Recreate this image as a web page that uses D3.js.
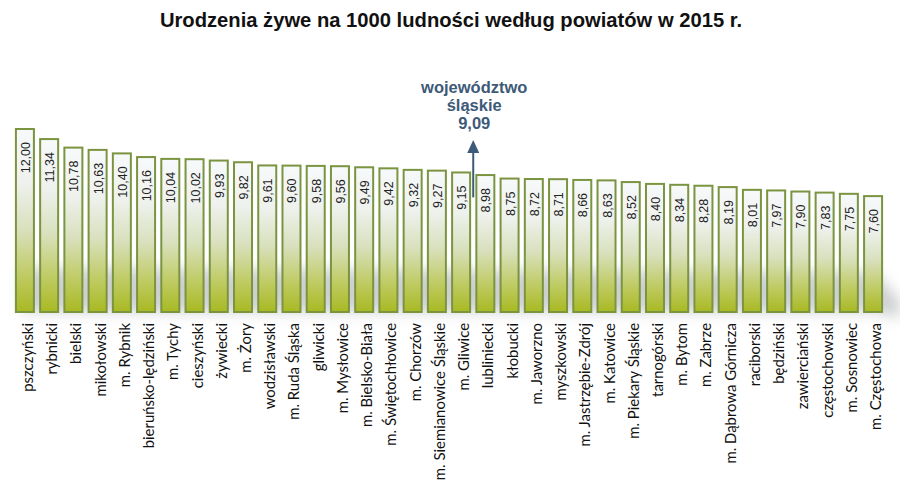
<!DOCTYPE html>
<html><head><meta charset="utf-8">
<script src="https://cdn.jsdelivr.net/npm/d3@7"></script>
<style>body{margin:0;background:#fff}svg{display:block}</style>
</head><body>
<svg id="c" width="900" height="496"></svg>
<script>
const categories = ["pszczyński","rybnicki","bielski","mikołowski","m. Rybnik","bieruńsko-lędziński","m. Tychy","cieszyński","żywiecki","m. Żory","wodzisławski","m. Ruda Śląska","gliwicki","m. Mysłowice","m. Bielsko-Biała","m. Świętochłowice","m. Chorzów","m. Siemianowice Śląskie","m. Gliwice","lubliniecki","kłobucki","m. Jaworzno","myszkowski","m. Jastrzębie-Zdrój","m. Katowice","m. Piekary Śląskie","tarnogórski","m. Bytom","m. Zabrze","m. Dąbrowa Górnicza","raciborski","będziński","zawierciański","częstochowski","m. Sosnowiec","m. Częstochowa"];
const values = [12.00,11.34,10.78,10.63,10.40,10.16,10.04,10.02,9.93,9.82,9.61,9.60,9.58,9.56,9.49,9.42,9.32,9.27,9.15,8.98,8.75,8.72,8.71,8.66,8.63,8.52,8.40,8.34,8.28,8.19,8.01,7.97,7.90,7.83,7.75,7.60];
const title = "Urodzenia żywe na 1000 ludności według powiatów w 2015 r.";
const avgLabel = ["województwo","śląskie","9,09"];
const avgValue = 9.09;

const svg = d3.select("#c");
const fmt = v => v.toFixed(2).replace(".", ",");

const x = d3.scaleBand().domain(categories).range([13, 885]).paddingInner(0.257).paddingOuter(0.12);
const y = d3.scaleLinear().domain([0, 12]).range([312, 129]);

const defs = svg.append("defs");
const g = defs.append("linearGradient").attr("id","bg").attr("x1",0).attr("y1",0).attr("x2",0).attr("y2",1);
[[0,"#f7f9fb"],[0.3,"#eef1ec"],[0.55,"#d9e0bd"],[0.8,"#bfcb63"],[1,"#a8b922"]].forEach(([o,c])=>g.append("stop").attr("offset",o).attr("stop-color",c));
const blur = defs.append("filter").attr("id","blur").attr("x","-20%").attr("y","-100%").attr("width","140%").attr("height","300%");
blur.append("feGaussianBlur").attr("stdDeviation",7);

// floor shadow
svg.append("path")
  .attr("d", `M${x(categories[0])+6},268 L${x(categories[35])+10},272 L900,300 L900,318 L${x(categories[35])+10},312 L${x(categories[0])+6},312 Z`)
  .attr("fill","#c9cbcc").attr("filter","url(#blur)").attr("opacity",0.9);

svg.append("text").attr("x",451).attr("y",27).attr("text-anchor","middle")
  .attr("font-family","Liberation Sans, Arial, sans-serif").attr("font-weight","bold").attr("font-size",20.2)
  .attr("fill","#111").text(title);

const bars = svg.append("g");
bars.selectAll("rect").data(values).join("rect")
  .attr("x",(d,i)=>x(categories[i])).attr("width",x.bandwidth())
  .attr("y",d=>y(d)).attr("height",d=>y(0)-y(d))
  .attr("fill","url(#bg)").attr("stroke","#7a9440").attr("stroke-width",2);

bars.selectAll("text.v").data(values).join("text").attr("class","v")
  .attr("transform",(d,i)=>`translate(${x(categories[i])+x.bandwidth()/2+1},${y(d)+13}) rotate(-90)`)
  .attr("text-anchor","end").attr("dominant-baseline","central")
  .attr("font-family","Liberation Sans, Arial, sans-serif").attr("font-size",12.5).attr("fill","#222")
  .text(fmt);

svg.append("g").selectAll("text").data(categories).join("text")
  .attr("transform",d=>`translate(${x(d)+x.bandwidth()/2+2},323) rotate(-90)`)
  .attr("text-anchor","end").attr("dominant-baseline","central")
  .attr("font-family","Lato, sans-serif").attr("font-size",14.9).attr("fill","#111")
  .text(d=>d);

// average annotation
const ax = (x(categories[18]) + x.bandwidth() + x(categories[19]))/2;
const col = "#3d5a78";
svg.append("line").attr("x1",ax).attr("x2",ax).attr("y1",y(avgValue)+24).attr("y2",151).attr("stroke",col).attr("stroke-width",2);
svg.append("path").attr("d",`M${ax},140 L${ax-6},153 L${ax+6},153 Z`).attr("fill",col);
svg.append("g").selectAll("text").data(avgLabel).join("text")
  .attr("x",ax+1).attr("y",(d,i)=>93+i*18).attr("text-anchor","middle")
  .attr("font-family","Liberation Sans, Arial, sans-serif").attr("font-weight","bold").attr("font-size",16.5)
  .attr("fill",col).text(d=>d);
</script>
</body></html>
